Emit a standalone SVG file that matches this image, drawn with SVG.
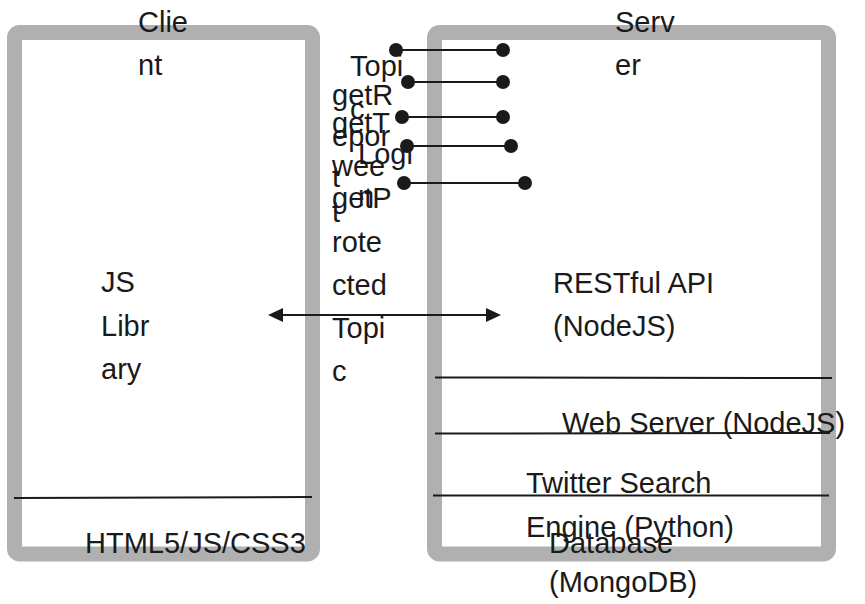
<svg xmlns="http://www.w3.org/2000/svg" width="865" height="604" viewBox="0 0 865 604">
  <style>
    .box { fill: #ffffff; stroke: #b0b0b0; stroke-width: 15; }
    .sep { stroke: #1a1a1a; stroke-width: 2; fill: none; }
    .lbl { font-family: "Liberation Sans", Arial, sans-serif; font-size: 29px; fill: #1a1a1a; }
    .link { stroke: #1a1a1a; stroke-width: 2; fill: none; }
  </style>
  <defs>
    <marker id="dot" viewBox="0 0 14 14" refX="7" refY="7" markerWidth="14" markerHeight="14" markerUnits="userSpaceOnUse" orient="auto">
      <circle cx="7" cy="7" r="7" fill="#1a1a1a"/>
    </marker>
    <marker id="arrow" viewBox="0 0 15 14" refX="3" refY="7" markerWidth="15" markerHeight="14" markerUnits="userSpaceOnUse" orient="auto-start-reverse">
      <path d="M0,0 L15,7 L0,14 z" fill="#1a1a1a"/>
    </marker>
  </defs>

  <g id="client">
    <rect class="box" x="14.5" y="32.5" width="298" height="521.5" rx="5"/>
    <line class="sep" x1="14" y1="498" x2="312" y2="497"/>
  </g>

  <g id="server">
    <rect class="box" x="434.5" y="32.5" width="394" height="521.5" rx="5"/>
    <line class="sep" x1="435" y1="377.5" x2="832" y2="378"/>
    <line class="sep" x1="435" y1="433.5" x2="830" y2="433"/>
    <line class="sep" x1="433" y1="495.5" x2="829" y2="495.5"/>
  </g>

  <g id="connectors">
    <line class="link" x1="396" y1="50" x2="503" y2="50" marker-start="url(#dot)" marker-end="url(#dot)"/>
    <line class="link" x1="408" y1="82" x2="503" y2="82" marker-start="url(#dot)" marker-end="url(#dot)"/>
    <line class="link" x1="402" y1="117" x2="503" y2="117" marker-start="url(#dot)" marker-end="url(#dot)"/>
    <line class="link" x1="407" y1="146" x2="511" y2="146" marker-start="url(#dot)" marker-end="url(#dot)"/>
    <line class="link" x1="404" y1="183" x2="525" y2="183" marker-start="url(#dot)" marker-end="url(#dot)"/>
    <line class="link" x1="280" y1="315" x2="489" y2="315" marker-start="url(#arrow)" marker-end="url(#arrow)"/>
  </g>

  <g id="client-label">
    <text class="lbl" x="138" y="32"><tspan x="138" y="32">Clie</tspan><tspan x="138" y="75">nt</tspan></text>
  </g>
  <g id="server-label">
    <text class="lbl" x="615" y="32"><tspan x="615" y="32">Serv</tspan><tspan x="615" y="75">er</tspan></text>
  </g>
  <g id="js-library">
    <text class="lbl"><tspan x="101" y="292">JS</tspan><tspan x="101" y="336">Libr</tspan><tspan x="101" y="379">ary</tspan></text>
  </g>
  <g id="html5">
    <text class="lbl" x="85" y="553">HTML5/JS/CSS3</text>
  </g>
  <g id="restful-api">
    <text class="lbl"><tspan x="553" y="293">RESTful API</tspan><tspan x="553" y="336">(NodeJS)</tspan></text>
  </g>
  <g id="web-server">
    <text class="lbl" x="562" y="433">Web Server (NodeJS)</text>
  </g>
  <g id="search-engine">
    <text class="lbl"><tspan x="526" y="493">Twitter Search</tspan><tspan x="526" y="537">Engine (Python)</tspan></text>
  </g>
  <g id="database">
    <text class="lbl"><tspan x="549" y="553">Database</tspan><tspan x="549" y="592">(MongoDB)</tspan></text>
  </g>

  <g id="topic">
    <text class="lbl"><tspan x="350" y="76">Topi</tspan><tspan x="350" y="119">c</tspan></text>
  </g>
  <g id="get-report">
    <text class="lbl"><tspan x="332" y="105">getR</tspan><tspan x="332" y="146">epor</tspan><tspan x="332" y="187">t</tspan></text>
  </g>
  <g id="get-tweet">
    <text class="lbl"><tspan x="332" y="133">getT</tspan><tspan x="332" y="176">wee</tspan><tspan x="332" y="222">t</tspan></text>
  </g>
  <g id="login">
    <text class="lbl"><tspan x="358" y="164">Logi</tspan><tspan x="358" y="206">n</tspan></text>
  </g>
  <g id="get-protected-topic">
    <text class="lbl"><tspan x="332" y="208">getP</tspan><tspan x="332" y="252">rote</tspan><tspan x="332" y="295">cted</tspan><tspan x="332" y="338">Topi</tspan><tspan x="332" y="381">c</tspan></text>
  </g>
</svg>
